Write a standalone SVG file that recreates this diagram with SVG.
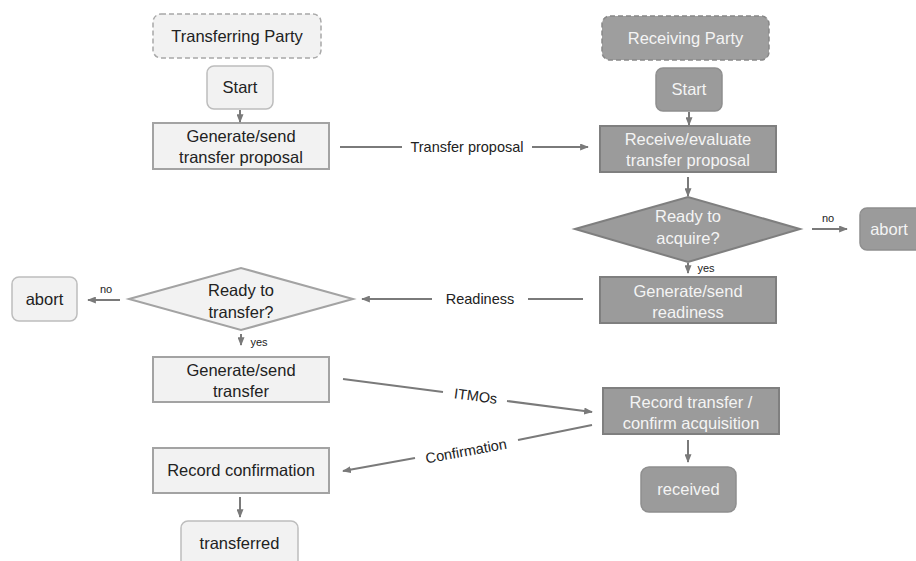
<svg xmlns="http://www.w3.org/2000/svg" width="916" height="561" viewBox="0 0 916 561">
  <style>
    .lt { fill: #f2f2f2; stroke: #a3a3a3; stroke-width: 2; }
    .lr { fill: #f2f2f2; stroke: #bdbdbd; stroke-width: 1.5; }
    .dk { fill: #9b9b9b; stroke: #7f7f7f; stroke-width: 2; }
    .dr { fill: #9b9b9b; stroke: #8f8f8f; stroke-width: 1.5; }
    .lane-l { fill: #f2f2f2; stroke: #a8a8a8; stroke-width: 1.5; stroke-dasharray: 5 3; }
    .lane-d { fill: #9e9e9e; stroke: #888; stroke-width: 1.5; stroke-dasharray: 5 3; }
    text { font-family: "Liberation Sans", Arial, sans-serif; text-anchor: middle; }
    .t { font-size: 16.5px; fill: #222; }
    .tw { font-size: 16.5px; fill: #f4f4f4; }
    .el { font-size: 14.5px; fill: #222; }
    .sm { font-size: 11px; fill: #222; }
    .conn line, .conn path { stroke: #7a7a7a; stroke-width: 2; fill: none; }
  </style>
  <defs>
    <marker id="arrow" viewBox="0 0 10 8" refX="9" refY="4" markerWidth="9" markerHeight="7" markerUnits="userSpaceOnUse" orient="auto">
      <path d="M0,0 L10,4 L0,8 z" fill="#7a7a7a"/>
    </marker>
  </defs>

  <rect width="916" height="561" fill="#ffffff"/>

  <!-- transferring party column -->
  <g id="lane-transferring">
    <rect class="lane-l" x="153" y="14" width="168" height="44" rx="8"/>
    <text class="t" x="237" y="42">Transferring Party</text>
  </g>
  <g id="start-transferring">
    <rect class="lr" x="207" y="66" width="66" height="43" rx="7"/>
    <text class="t" x="240" y="93">Start</text>
  </g>
  <g id="send-proposal">
    <rect class="lt" x="153" y="123" width="176" height="46"/>
    <text class="t" x="241" y="142">Generate/send</text>
    <text class="t" x="241" y="163">transfer proposal</text>
  </g>
  <g id="ready-transfer">
    <polygon class="lt" points="129,299 241,268 353,299 241,330"/>
    <text class="t" x="241" y="296">Ready to</text>
    <text class="t" x="241" y="318">transfer?</text>
  </g>
  <g id="abort-transferring">
    <rect class="lr" x="12" y="277" width="65" height="44" rx="7"/>
    <text class="t" x="44.5" y="305">abort</text>
  </g>
  <g id="send-transfer">
    <rect class="lt" x="153" y="357" width="176" height="45"/>
    <text class="t" x="241" y="376">Generate/send</text>
    <text class="t" x="241" y="397">transfer</text>
  </g>
  <g id="record-confirmation">
    <rect class="lt" x="153" y="448" width="176" height="45"/>
    <text class="t" x="241" y="476">Record confirmation</text>
  </g>
  <g id="transferred">
    <rect class="lr" x="181" y="521" width="117" height="50" rx="7"/>
    <text class="t" x="239.5" y="549">transferred</text>
  </g>

  <!-- receiving party column -->
  <g id="lane-receiving">
    <rect class="lane-d" x="602" y="16" width="167" height="44" rx="8"/>
    <text class="tw" x="685.5" y="44">Receiving Party</text>
  </g>
  <g id="start-receiving">
    <rect class="dr" x="656" y="68" width="66" height="43" rx="7"/>
    <text class="tw" x="689" y="95">Start</text>
  </g>
  <g id="evaluate-proposal">
    <rect class="dk" x="600" y="126" width="176" height="46"/>
    <text class="tw" x="688" y="145">Receive/evaluate</text>
    <text class="tw" x="688" y="166">transfer proposal</text>
  </g>
  <g id="ready-acquire">
    <polygon class="dk" points="575,229 688,197 800,229 688,262"/>
    <text class="tw" x="688" y="222">Ready to</text>
    <text class="tw" x="688" y="244">acquire?</text>
  </g>
  <g id="abort-receiving">
    <rect class="dr" x="860" y="208" width="70" height="42" rx="7"/>
    <text class="tw" x="889" y="235">abort</text>
  </g>
  <g id="send-readiness">
    <rect class="dk" x="600" y="277" width="176" height="46"/>
    <text class="tw" x="688" y="297">Generate/send</text>
    <text class="tw" x="688" y="318">readiness</text>
  </g>
  <g id="record-transfer">
    <rect class="dk" x="603" y="388" width="176" height="46"/>
    <text class="tw" x="691" y="408">Record transfer /</text>
    <text class="tw" x="691" y="429">confirm acquisition</text>
  </g>
  <g id="received">
    <rect class="dr" x="641" y="467" width="95" height="45" rx="8"/>
    <text class="tw" x="688.5" y="495">received</text>
  </g>

  <!-- connectors -->
  <g class="conn">
    <line x1="240" y1="110" x2="240" y2="122" marker-end="url(#arrow)"/>
    <line x1="689" y1="112" x2="689" y2="125" marker-end="url(#arrow)"/>

    <line x1="340" y1="147" x2="402" y2="147"/>
    <line x1="532" y1="147" x2="588" y2="147" marker-end="url(#arrow)"/>

    <line x1="688" y1="177" x2="688" y2="196" marker-end="url(#arrow)"/>
    <line x1="812" y1="229" x2="847" y2="229" marker-end="url(#arrow)"/>
    <line x1="688" y1="263" x2="688" y2="273" marker-end="url(#arrow)"/>

    <line x1="583" y1="299" x2="528" y2="299"/>
    <line x1="432" y1="299" x2="362" y2="299" marker-end="url(#arrow)"/>

    <line x1="120" y1="300" x2="88" y2="300" marker-end="url(#arrow)"/>
    <line x1="241" y1="334" x2="241" y2="345" marker-end="url(#arrow)"/>

    <line x1="343" y1="379" x2="443" y2="392"/>
    <line x1="507" y1="401" x2="592" y2="412" marker-end="url(#arrow)"/>

    <line x1="592" y1="425" x2="518" y2="440"/>
    <line x1="415" y1="458" x2="343" y2="471" marker-end="url(#arrow)"/>

    <line x1="688" y1="440" x2="688" y2="462" marker-end="url(#arrow)"/>
    <line x1="240" y1="497" x2="240" y2="517" marker-end="url(#arrow)"/>
  </g>

  <!-- connector labels -->
  <g id="labels">
    <text class="el" x="467" y="152">Transfer proposal</text>
    <text class="el" x="480" y="304">Readiness</text>
    <text class="el" transform="translate(475,401) rotate(7.5)">ITMOs</text>
    <text class="el" transform="translate(467,456) rotate(-10.5)">Confirmation</text>
    <text class="sm" x="828" y="222">no</text>
    <text class="sm" x="706" y="272">yes</text>
    <text class="sm" x="106" y="293">no</text>
    <text class="sm" x="259" y="346">yes</text>
  </g>
</svg>
